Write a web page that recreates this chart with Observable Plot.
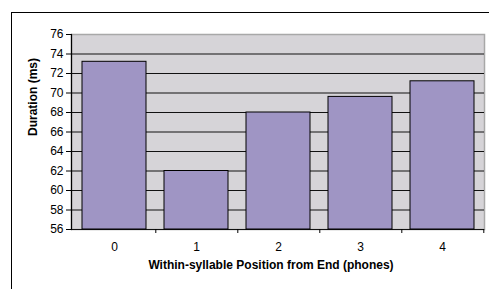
<!DOCTYPE html>
<html>
<head>
<meta charset="utf-8">
<script src="https://cdn.jsdelivr.net/npm/d3@7"></script>
<script src="https://cdn.jsdelivr.net/npm/@observablehq/plot@0.6"></script>
<style>
  html, body { margin: 0; padding: 0; background: #fff; overflow: hidden; }
  #wrap { position: relative; width: 489px; height: 289px; overflow: hidden; }
  #border { position: absolute; left: 11px; top: 12px; width: 520px; height: 320px; border: 1.5px solid #000; box-sizing: border-box; pointer-events: none; }
  #chart { position: absolute; left: 0; top: 0; }
</style>
</head>
<body>
<div id="wrap"><div id="chart"></div><div id="border"></div></div>
<script>
const positions = ["0", "1", "2", "3", "4"];
const durations = [73.2, 62.0, 68.0, 69.6, 71.2];
const yTicks = [56, 58, 60, 62, 64, 66, 68, 70, 72, 74, 76];
const xTitle = "Within-syllable Position from End (phones)";
const yTitle = "Duration (ms)";

const data = positions.map((p, i) => ({pos: p, dur: durations[i]}));

const W = 489, H = 289;
const mL = 71, mR = 5, mT = 34, mB = 60;
const step = (W - mL - mR) / positions.length;
const FS = 12;

const chart = Plot.plot({
  width: W,
  height: H,
  marginLeft: mL,
  marginRight: mR,
  marginTop: mT,
  marginBottom: mB,
  style: {fontFamily: "'Liberation Sans', Arial, sans-serif", fontSize: FS + "px", color: "#000", background: "transparent"},
  x: {domain: positions, paddingInner: 0.22, paddingOuter: 0.11, label: null},
  y: {domain: [56, 76], label: null},
  marks: [
    Plot.frame({fill: "#d6d4d8", stroke: "#a8a8a8", strokeWidth: 1.5}),
    Plot.ruleY(yTicks.filter(t => t < 76), {stroke: "#111", strokeWidth: 1.2}),
    Plot.frame({anchor: "left", stroke: "#000", strokeWidth: 1.2}),
    Plot.barY(data, {x: "pos", y1: 56, y2: "dur", fill: "#9f95c4", stroke: "#000", strokeWidth: 1}),
    Plot.axisY({ticks: yTicks, tickSize: 5, tickPadding: 3, tickFormat: d => String(d), label: null, fontSize: FS}),
    Plot.axisX({tickSize: 4, dx: step / 2, tickFormat: () => "", label: null}),
    Plot.axisX({tickSize: 0, tickPadding: 12.5, label: null, fontSize: FS}),
    Plot.text([xTitle], {frameAnchor: "bottom", dy: 39, dx: -7, fontWeight: "bold", fontSize: FS}),
    Plot.text([yTitle], {frameAnchor: "left", dx: -38, dy: 4, rotate: -90, fontWeight: "bold", fontSize: FS})
  ]
});
document.getElementById("chart").appendChild(chart);
</script>
</body>
</html>
